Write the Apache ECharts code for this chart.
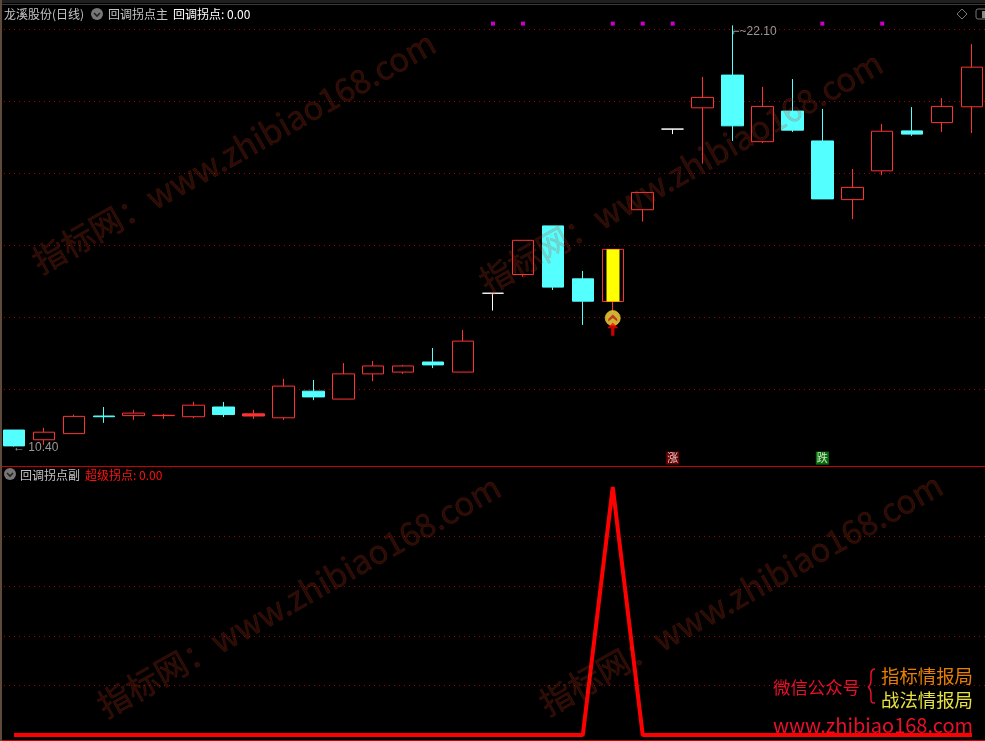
<!DOCTYPE html>
<html><head><meta charset="utf-8">
<style>html,body{margin:0;padding:0;background:#000}#c{width:985px;height:741px}</style>
<script src="https://cdn.jsdelivr.net/npm/echarts@6/dist/echarts.min.js"></script>
</head><body><div id="c"></div>
<script>
const categories = Array.from({length:33},(_,i)=>'D'+(i+1));
// open, close, low, high
const opens  = [10.86,10.59,10.76,11.25,11.26,11.26,11.23,11.50,11.25,11.20,11.94,11.72,12.42,12.47,12.75,12.47,14.66,15.18,16.53,15.06,14.43,16.98,19.22,19.81,20.72,18.87,19.72,18.89,17.26,18.06,19.17,19.40,19.84];
const closes = [10.42,10.80,11.24,11.23,11.33,11.27,11.55,11.29,11.31,12.08,11.78,12.42,12.64,12.64,12.67,13.33,14.66,16.13,14.83,14.44,15.88,17.46,19.22,20.10,19.31,19.85,19.19,17.28,17.60,19.16,19.08,19.85,20.94];
const lows   = [10.40,10.45,10.76,11.06,11.14,11.17,11.19,11.22,11.17,11.14,11.69,11.72,12.22,12.42,12.58,12.47,14.18,15.12,14.75,13.78,14.14,16.65,19.08,18.26,18.89,18.83,19.14,17.28,16.72,17.94,19.03,19.14,19.11];
const highs  = [10.86,10.92,11.29,11.50,11.42,11.31,11.64,11.64,11.42,12.28,12.25,12.72,12.78,12.67,13.14,13.64,14.66,16.13,16.53,15.28,15.88,17.46,19.22,20.67,22.10,20.39,20.61,19.78,18.11,19.36,19.83,20.08,21.58];
const filledUp = [8];           // rising day drawn solid
const signalOpen = 14.43, signalClose = 15.88, signalLow = 14.43, signalHigh = 15.88;
const signalIndex = 20;
const topDots = [16,17,20,21,22,27,29];
const topDotLevel = 22.15;
const riseIndex = 22, fallIndex = 27, badgeLevel = 10.08;
const coinLevel = 13.97, arrowLevel = 13.66;
const lowIndex = 0, lowValue = 10.40, highIndex = 24, highValue = 22.10;
const subValues = [0,0,0,0,0,0,0,0,0,0,0,0,0,0,0,0,0,0,0,0,100,0,0,0,0,0,0,0,0,0,0,0,0];

const RED='#ff3232', CYAN='#54ffff';
const CJK='"Noto Sans CJK SC","Noto Sans",sans-serif';
const LAT='"Liberation Sans",Arial,sans-serif';
const chart=echarts.init(document.getElementById('c'),null,{renderer:'canvas'});

const candleData=categories.map((_,i)=>{
  const v=[opens[i],closes[i],lows[i],highs[i]];
  return filledUp.includes(i)?{value:v,itemStyle:{color:RED}}:v;
});
const signalData=categories.map((_,i)=>i===signalIndex?[signalOpen,signalClose,signalLow,signalHigh]:['-','-','-','-']);
const txt=(x,y,t,fill,font)=>({type:'text',z:60,x,y,style:{text:t,fill,font,textVerticalAlign:'middle'}});
const chev=(cx,cy)=>[
  {type:'circle',z:60,shape:{cx,cy,r:6},style:{fill:'#777'}},
  {type:'polyline',z:61,shape:{points:[[cx-3,cy-1],[cx,cy+2],[cx+3,cy-1]]},style:{stroke:'#222',lineWidth:1.6,fill:null}}
];
const wm=(x,y)=>({type:'text',z:50,x,y,rotation:29.4*Math.PI/180,silent:true,style:{text:'指标网：www.zhibiao168.com',fill:'rgba(205,62,32,0.2)',stroke:'rgba(205,62,32,0.2)',lineWidth:0.6,font:'32.6px '+CJK,textVerticalAlign:'middle'}});
const curve=(x1,y1,cx1,cy1,cx2,cy2,x2,y2)=>({type:'bezierCurve',z:60,shape:{x1,y1,cpx1:cx1,cpy1:cy1,cpx2:cx2,cpy2:cy2,x2,y2},style:{stroke:'#e8102a',fill:null,lineWidth:1.5}});

const graphics=[
  {type:'rect',z:55,shape:{x:0,y:0,width:985,height:3},style:{fill:'#1f1f1f'}},
  {type:'rect',z:55,shape:{x:0,y:4,width:985,height:1},style:{fill:'#3a3a3a'}},
  {type:'rect',z:55,shape:{x:0,y:0,width:2,height:741},style:{fill:'#5e4a3c'}},
  {type:'rect',z:55,shape:{x:2,y:466,width:983,height:1},style:{fill:'#c80000'}},
  {type:'rect',z:55,shape:{x:2,y:740,width:983,height:1},style:{fill:'#c80000'}},
  txt(4,14,'龙溪股份(日线)','#c4c4c4','12px '+CJK),
  ...chev(97,14),
  txt(108,14,'回调拐点主','#c4c4c4','12px '+CJK),
  txt(173,14,'回调拐点: 0.00','#ffffff','12px '+CJK),
  ...chev(10,474),
  txt(20,475,'回调拐点副','#c4c4c4','12px '+CJK),
  txt(85,475,'超级拐点: 0.00','#ff1010','12px '+CJK),
  {type:'polygon',z:60,shape:{points:[[962,9],[967,14],[962,19],[957,14]]},style:{stroke:'#777',fill:null,lineWidth:1}},
  {type:'rect',z:60,shape:{x:976,y:9,width:14,height:10,r:2},style:{stroke:'#777',fill:null,lineWidth:1}},
  {type:'rect',z:60,shape:{x:982,y:11,width:3,height:7},style:{fill:'#888'}},
  wm(35,264), wm(482,284), wm(100,708), wm(542,706),
  txt(773,687,'微信公众号','#e8102a','17.4px '+CJK),
  txt(881,676,'指标情报局','#e87f00','18.4px '+CJK),
  txt(881,700,'战法情报局','#e6e040','18.4px '+CJK),
  txt(773,725,'www.zhibiao168.com','#e8102a','20px '+CJK),
  curve(875,669,870,669,871,674,871,680),
  curve(871,680,871,684,870,686,868,687),
  curve(868,687,870,688,871,690,871,695),
  curve(871,695,871,701,870,703,875,703)
];

chart.setOption({
  animation:false,
  backgroundColor:'#000',
  graphic:{elements:graphics},
  grid:[
    {left:-1,width:988,top:29,height:432,outerBoundsMode:'none',containLabel:false},
    {left:-1,width:988,top:487,height:248,outerBoundsMode:'none',containLabel:false}
  ],
  xAxis:[
    {type:'category',gridIndex:0,data:categories,axisLine:{show:false},axisTick:{show:false},axisLabel:{show:false},splitLine:{show:false}},
    {type:'category',gridIndex:1,data:categories,axisLine:{show:false},axisTick:{show:false},axisLabel:{show:false},splitLine:{show:false}}
  ],
  yAxis:[
    {type:'value',gridIndex:0,min:10,max:22,interval:2,axisLine:{show:false},axisTick:{show:false},axisLabel:{show:false},
      splitLine:{show:true,showMinLine:false,lineStyle:{color:'#a00000',width:1,type:[1,4]}}},
    {type:'value',gridIndex:1,min:0,max:100,interval:20,axisLine:{show:false},axisTick:{show:false},axisLabel:{show:false},
      splitLine:{show:true,showMinLine:false,showMaxLine:false,lineStyle:{color:'#a00000',width:1,type:[1,4]}}}
  ],
  series:[
    {type:'candlestick',xAxisIndex:0,yAxisIndex:0,data:candleData,barWidth:22,clip:false,z:3,
      itemStyle:{color:'#000',color0:CYAN,borderColor:RED,borderColor0:CYAN,borderColorDoji:'#fff',borderWidth:1}},
    {type:'candlestick',xAxisIndex:0,yAxisIndex:0,data:signalData,barWidth:13,clip:false,z:4,
      itemStyle:{color:'#ffff00',color0:'#ffff00',borderColor:'#ffff00',borderColor0:'#ffff00',borderWidth:0}},
    {type:'scatter',xAxisIndex:0,yAxisIndex:0,clip:false,z:5,symbol:'rect',symbolSize:4,
      data:topDots.map(i=>[i,topDotLevel]),itemStyle:{color:'#ff00ff'}},
    {type:'scatter',xAxisIndex:0,yAxisIndex:0,clip:false,z:6,symbol:'circle',symbolSize:15,
      data:[[signalIndex,coinLevel]],itemStyle:{color:'#ffe040',borderColor:'#e8b020',borderWidth:1}},
    {type:'scatter',xAxisIndex:0,yAxisIndex:0,clip:false,z:7,symbol:'path://M0 6 L5 1 L10 6 L10 9 L5 5 L0 9 Z',symbolSize:[9,7],
      data:[[signalIndex,coinLevel]],itemStyle:{color:'#c01818'}},
    {type:'scatter',xAxisIndex:0,yAxisIndex:0,clip:false,z:8,symbol:'path://M5 0 L10 5 L6.5 5 L6.5 12 L3.5 12 L3.5 5 L0 5 Z',symbolSize:[11,13],
      data:[[signalIndex,arrowLevel]],itemStyle:{color:'#ff0000'}},
    {type:'scatter',xAxisIndex:0,yAxisIndex:0,clip:false,z:8,symbol:'rect',symbolSize:13,
      data:[{value:[riseIndex,badgeLevel],itemStyle:{color:'#840000'},label:{formatter:'涨'}},
            {value:[fallIndex,badgeLevel],itemStyle:{color:'#0a8a0a'},label:{formatter:'跌'}}],
      label:{show:true,position:'inside',color:'#fff',fontFamily:CJK,fontSize:11}},
    {type:'scatter',xAxisIndex:0,yAxisIndex:0,clip:false,z:9,symbolSize:0,
      data:[{value:[lowIndex,lowValue],label:{formatter:'←'+' '+lowValue.toFixed(2),offset:[-6,1]}},
            {value:[highIndex,highValue],label:{formatter:'⌐~'+highValue.toFixed(2),offset:[-5,6]}}],
      label:{show:true,position:'right',color:'#bdbdbd',fontFamily:LAT,fontSize:12}},
    {type:'line',xAxisIndex:1,yAxisIndex:1,data:subValues,symbol:'none',clip:false,z:5,
      lineStyle:{color:'#ff0000',width:4,join:'bevel'}}
  ]
});
</script></body></html>
